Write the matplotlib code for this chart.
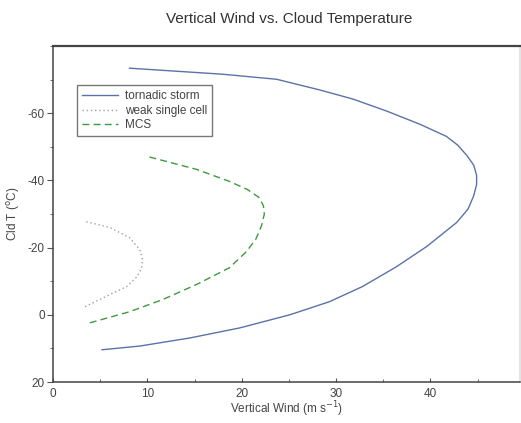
import matplotlib
matplotlib.use('Agg')
import matplotlib.pyplot as plt
from matplotlib.ticker import MultipleLocator

plt.rcParams['font.family'] = ['Liberation Sans', 'DejaVu Sans']
plt.rcParams['axes.unicode_minus'] = False

# values
tornadic_wind = [5.2, 9.2, 14.5, 19.8, 25.1, 29.3, 32.8, 36.4, 39.6, 42.8, 44.0, 44.6,
                 44.9, 44.9, 44.6, 43.9, 42.9, 41.7, 38.9, 35.4, 31.8, 28.3, 23.7, 18.0, 8.1]
tornadic_temp = [10.4, 9.3, 6.9, 3.9, 0.0, -3.9, -8.4, -14.3, -20.3, -27.5, -31.5, -35.5,
                 -38.8, -41.5, -44.5, -47.3, -50.5, -53.1, -56.7, -60.6, -64.2, -66.9, -70.1, -71.6, -73.4]

weak_wind = [3.4, 6.0, 7.8, 8.9, 9.4, 9.5, 9.2, 8.1, 6.0, 3.4]
weak_temp = [-2.4, -6.0, -8.4, -11.3, -14.0, -16.4, -19.4, -23.0, -26.0, -27.8]

mcs_wind = [3.9, 8.1, 11.6, 15.2, 18.7, 20.5, 21.5, 22.1, 22.4, 22.3, 21.8, 20.6, 18.7, 15.2, 9.9]
mcs_temp = [2.4, -0.9, -4.5, -9.0, -14.0, -18.8, -22.5, -26.5, -30.0, -32.5, -35.0, -37.3, -39.7, -43.3, -47.2]

labels = ['tornadic storm', 'weak single cell', 'MCS']

fig = plt.figure(figsize=(5.21, 4.23), dpi=100)
ax = fig.add_axes([53 / 521, 41 / 423, 467 / 521, 336 / 423])

ax.plot(tornadic_wind, tornadic_temp, color='#5b72a8', lw=1.0, label=labels[0])
ax.plot(weak_wind, weak_temp, color='#a0a0a0', lw=1.0, ls=(0, (1, 2)), label=labels[1])
ax.plot(mcs_wind, mcs_temp, color='#3f9a3f', lw=1.0, ls=(0, (5, 3)), label=labels[2])

ax.set_xlim(0, 49.5)
ax.set_ylim(20, -80)
ax.set_xticks([0, 10, 20, 30, 40])
ax.set_yticks([20, 0, -20, -40, -60])
ax.xaxis.set_minor_locator(MultipleLocator(5))
ax.yaxis.set_minor_locator(MultipleLocator(10))
ax.tick_params(axis='x', which='major', direction='in', length=3, colors='#555555',
               labelcolor='#444444', labelsize=8.5, pad=4)
ax.tick_params(axis='x', which='minor', direction='in', length=2, colors='#555555')
ax.tick_params(axis='y', which='major', direction='out', length=4, colors='#555555',
               labelcolor='#444444', labelsize=8.5, pad=2)
ax.tick_params(axis='y', which='minor', direction='out', length=2, colors='#555555')

for name, sp in ax.spines.items():
    sp.set_color('#444444')
    sp.set_linewidth(1.1)
ax.spines['right'].set_color('#dddddd')
ax.spines['top'].set_linewidth(1.6)

ax.set_xlabel('Vertical Wind (m s$^{-1}$)', fontsize=8.5, color='#444444', labelpad=0)
ax.set_ylabel('Cld T ($^\\mathrm{o}$C)', fontsize=8.5, color='#444444', labelpad=4)
fig.text(0.555, 0.955, 'Vertical Wind vs. Cloud Temperature', ha='center', va='center',
         fontsize=11, color='#333333')

leg = ax.legend(loc='upper left', bbox_to_anchor=(24 / 467, 1 - 39 / 336), fontsize=8.5,
                fancybox=False, framealpha=1, edgecolor='#777777', handlelength=3.0,
                borderpad=0.45, labelspacing=0.2, handletextpad=0.6, borderaxespad=0)
leg.get_frame().set_linewidth(1.0)
for t in leg.get_texts():
    t.set_color('#444444')

fig.savefig('out.png', dpi=100)
